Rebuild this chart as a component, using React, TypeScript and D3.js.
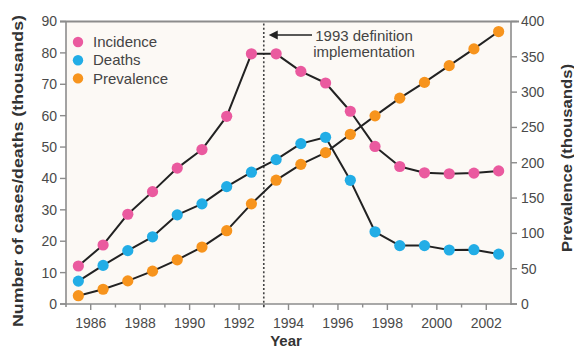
import React from 'react';
import * as d3 from 'd3';

// AIDS surveillance, United States (values in thousands)
const years = [1985, 1986, 1987, 1988, 1989, 1990, 1991, 1992, 1993, 1994, 1995, 1996, 1997, 1998, 1999, 2000, 2001, 2002];
const incidence = [12.1, 18.8, 28.6, 35.8, 43.3, 49.2, 59.8, 79.7, 79.7, 74.1, 70.4, 61.4, 50.2, 43.8, 41.8, 41.5, 41.7, 42.4];
const deaths = [7.3, 12.3, 17.0, 21.4, 28.4, 31.9, 37.4, 42.0, 46.0, 51.1, 53.1, 39.4, 23.0, 18.6, 18.6, 17.2, 17.3, 15.9];
const prevalence = [11.8, 20.9, 32.7, 46.5, 62.6, 80.6, 103.8, 141.8, 175.3, 197.7, 214.3, 240.3, 266.4, 291.5, 313.8, 337.5, 361.2, 385.8];

const leftTicks = [0, 10, 20, 30, 40, 50, 60, 70, 80, 90];
const rightTicks = [0, 50, 100, 150, 200, 250, 300, 350, 400];
const yearLabels = [1986, 1988, 1990, 1992, 1994, 1996, 1998, 2000, 2002];
const minorYears = [1987, 1989, 1991, 1993, 1995, 1997, 1999, 2001];
const definitionYear = 1993;

const legendItems = ['Incidence', 'Deaths', 'Prevalence'];
const colors: Record<string, string> = {
  Incidence: '#ea5a9f',
  Deaths: '#22ade6',
  Prevalence: '#f7941d',
};

const W = 574;
const H = 348;
const X0 = 66;
const X1 = 511;
const Y0 = 304;
const Y1 = 21.5;

export default function App() {
  const x = d3.scaleLinear().domain([1985, 2003]).range([X0, X1]);
  const yL = d3.scaleLinear().domain([0, 90]).range([Y0, Y1]);
  const yR = d3.scaleLinear().domain([0, 400]).range([Y0, Y1]);

  const series = [
    { name: 'Incidence', values: incidence, y: yL },
    { name: 'Deaths', values: deaths, y: yL },
    { name: 'Prevalence', values: prevalence, y: yR },
  ];

  const axisColor = '#8c8c8c';
  const tickText = '#4a4a4a';
  const font = 'Liberation Sans, Arial, Helvetica, sans-serif';

  return (
    <svg
      width={W}
      height={H}
      viewBox={`0 0 ${W} ${H}`}
      style={{ position: 'absolute', left: 0, top: 0, background: '#ffffff' }}
      fontFamily={font}
    >
      {/* plot background */}
      <rect x={X0} y={Y1} width={X1 - X0} height={Y0 - Y1} fill="#fcf9f5" />

      {/* frame: top border, left/right axes, bottom axis */}
      <line x1={X0 - 6} x2={X1 + 8} y1={Y1} y2={Y1} stroke={axisColor} strokeWidth={2} />
      <line x1={X0} x2={X0} y1={Y1} y2={Y0 + 3} stroke={axisColor} strokeWidth={1.6} />
      <line x1={X1} x2={X1} y1={Y1} y2={Y0 + 1} stroke={axisColor} strokeWidth={1.6} />
      <line x1={X0 - 6} x2={X1 + 6} y1={Y0} y2={Y0} stroke={axisColor} strokeWidth={1.6} />

      {/* left axis */}
      {leftTicks.map((t) => (
        <g key={'l' + t}>
          <line x1={X0 - 6} x2={X0} y1={yL(t)} y2={yL(t)} stroke={axisColor} strokeWidth={1.4} />
          <text x={X0 - 9} y={yL(t)} dy="0.35em" textAnchor="end" fontSize={14} fill={tickText}>
            {t}
          </text>
        </g>
      ))}

      {/* right axis */}
      {rightTicks.map((t) => (
        <g key={'r' + t}>
          <line x1={X1} x2={X1 + 6} y1={yR(t)} y2={yR(t)} stroke={axisColor} strokeWidth={1.4} />
          <text x={X1 + 10} y={yR(t)} dy="0.35em" textAnchor="start" fontSize={14} fill={tickText}>
            {t}
          </text>
        </g>
      ))}

      {/* bottom axis */}
      {yearLabels.map((t) => (
        <g key={'x' + t}>
          <line x1={x(t)} x2={x(t)} y1={Y0} y2={Y0 + 6} stroke={axisColor} strokeWidth={1.4} />
          <text x={x(t)} y={Y0 + 24} textAnchor="middle" fontSize={14} fill={tickText}>
            {t}
          </text>
        </g>
      ))}
      {minorYears.map((t) => (
        <line key={'m' + t} x1={x(t)} x2={x(t)} y1={Y0} y2={Y0 + 3.5} stroke={axisColor} strokeWidth={1.4} />
      ))}

      {/* case definition change */}
      <line
        x1={x(definitionYear)}
        x2={x(definitionYear)}
        y1={Y1 + 2}
        y2={Y0 + 4}
        stroke="#444"
        strokeWidth={1.6}
        strokeDasharray="2,2.2"
      />
      <line x1={x(definitionYear) + 12} x2={312} y1={35} y2={35} stroke="#222" strokeWidth={1.4} />
      <path
        d={`M${x(definitionYear) + 5},35 L${x(definitionYear) + 14},30.5 L${x(definitionYear) + 14},39.5 Z`}
        fill="#222"
      />
      <text x={364} y={40.5} textAnchor="middle" fontSize={15} fill="#444">
        1993 definition
      </text>
      <text x={364} y={57} textAnchor="middle" fontSize={15} fill="#444">
        implementation
      </text>

      {/* series lines */}
      {series.map((s) => {
        const line = d3
          .line<number>()
          .x((_, i) => x(years[i] + 0.5))
          .y((v) => s.y(v));
        return (
          <path
            key={'line' + s.name}
            d={line(s.values) || ''}
            fill="none"
            stroke="#222"
            strokeWidth={2}
            strokeLinejoin="round"
          />
        );
      })}

      {/* series markers */}
      {series.map((s) => (
        <g key={'pts' + s.name}>
          {s.values.map((v, i) => (
            <circle key={i} cx={x(years[i] + 0.5)} cy={s.y(v)} r={5.6} fill={colors[s.name]} />
          ))}
        </g>
      ))}

      {/* legend */}
      {legendItems.map((name, i) => (
        <g key={'lg' + name} transform={`translate(78, ${42 + i * 18.2})`}>
          <circle r={5.2} fill={colors[name]} />
          <text x={15} dy="0.35em" fontSize={15} fill="#444">
            {name}
          </text>
        </g>
      ))}

      {/* axis titles */}
      <text
        transform="translate(23, 171) rotate(-90)"
        textAnchor="middle"
        fontSize={15}
        fontWeight="bold"
        fill="#333"
        textLength={312}
        lengthAdjust="spacingAndGlyphs"
      >
        Number of cases/deaths (thousands)
      </text>
      <text
        transform="translate(572, 158) rotate(-90)"
        textAnchor="middle"
        fontSize={15}
        fontWeight="bold"
        fill="#333"
        textLength={188}
        lengthAdjust="spacingAndGlyphs"
      >
        Prevalence (thousands)
      </text>
      <text x={286} y={346} textAnchor="middle" fontSize={15} fontWeight="bold" fill="#333">
        Year
      </text>
    </svg>
  );
}
